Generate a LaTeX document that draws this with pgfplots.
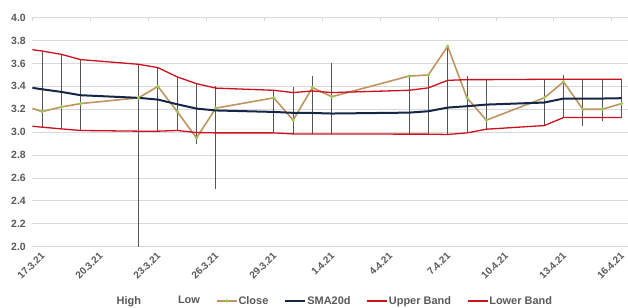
\documentclass[border=0pt]{standalone}
\usepackage{fontspec}
\setmainfont{Liberation Sans}
\usepackage{pgfplots}
\usepackage{pgfplotstable}
\pgfplotsset{compat=1.18}
\definecolor{closec}{RGB}{192,148,96}
\definecolor{smac}{RGB}{22,38,70}
\definecolor{bandc}{RGB}{204,16,30}
\definecolor{mkc}{RGB}{146,208,80}
\definecolor{hlc}{RGB}{85,85,85}
\definecolor{gridc}{RGB}{217,217,217}
\definecolor{txtc}{RGB}{89,89,89}

% x = day index from 17.3.21 (tick at day start), data plotted mid-day
\pgfplotstableread{
x     close  sma    upper  lower
-0.5  3.235  3.400  3.733  3.060
0.5   3.180  3.375  3.709  3.044
1.5   3.220  3.352  3.680  3.029
2.5   3.250  3.323  3.634  3.015
5.5   3.300  3.300  3.593  3.009
6.5   3.400  3.285  3.564  3.009
7.5   3.180  3.244  3.483  3.015
8.5   2.950  3.206  3.424  2.997
9.5   3.210  3.190  3.385  2.994
12.5  3.300  3.177  3.366  2.994
13.5  3.105  3.169  3.346  2.985
14.5  3.390  3.168  3.360  2.985
15.5  3.310  3.163  3.346  2.985
19.5  3.490  3.171  3.366  2.983
20.5  3.500  3.183  3.387  2.983
21.5  3.750  3.215  3.453  2.980
22.5  3.300  3.227  3.459  2.994
23.5  3.105  3.241  3.459  3.026
26.5  3.300  3.259  3.462  3.058
27.5  3.440  3.294  3.462  3.128
28.5  3.200  3.294  3.462  3.128
29.5  3.200  3.294  3.462  3.128
30.5  3.250  3.297  3.462  3.128
}\lines

\pgfplotstableread{
x     high   low
0.5   3.709  3.044
1.5   3.680  3.029
2.5   3.634  3.015
5.5   3.593  2.000
6.5   3.564  3.009
7.5   3.483  3.015
8.5   3.424  2.895
9.5   3.400  2.500
12.5  3.366  2.994
13.5  3.395  2.985
14.5  3.494  2.985
15.5  3.600  2.985
19.5  3.490  2.983
20.5  3.500  2.983
21.5  3.750  2.980
22.5  3.494  2.994
23.5  3.459  3.026
26.5  3.462  3.058
27.5  3.497  3.128
28.5  3.462  3.052
29.5  3.462  3.099
30.5  3.462  3.128
}\hilo

\begin{document}
\begin{tikzpicture}
\begin{axis}[
  at={(0,0)}, anchor=south west,
  scale only axis, width=596bp, height=229bp,
  xmin=0, xmax=30.85, ymin=2.0, ymax=4.0,
  ytick={2.0,2.2,...,4.01},
  xtick={0,3,...,30},
  xticklabels={17.3.21,20.3.21,23.3.21,26.3.21,29.3.21,1.4.21,4.4.21,7.4.21,10.4.21,13.4.21,16.4.21},
  ymajorgrids, grid style={draw=gridc, line width=0.9bp},
  axis line style={draw=none},
  xtick pos=upper, xticklabel pos=lower,
  ytick style={draw=none},
  xtick style={draw=gridc, line width=0.9bp},
  major tick length=3bp, tick align=inside,
  /pgf/number format/.cd, fixed, fixed zerofill, precision=1, assume math mode=true,
  /pgfplots/.cd,
  yticklabel style={font=\bfseries\fontsize{10.5}{12}\selectfont, text=txtc, xshift=-3bp},
  xticklabel style={font=\bfseries\fontsize{10}{12}\selectfont, text=txtc, xshift=8bp, yshift=-3bp, rotate=45, anchor=north east, inner sep=1bp},
  legend style={at={(0.490,-0.237)}, anchor=center, draw=none, fill=none,
    font=\bfseries\fontsize{11}{13}\selectfont, text=txtc,
    legend columns=-1,
    /tikz/every even column/.append style={column sep=15bp},
    nodes={inner sep=1bp}},
  legend image code/.code={\draw[#1,mark repeat=2,mark phase=2] plot coordinates {(0bp,0bp) (10bp,0bp) (20bp,0bp)};},
]
\addplot[draw=none, mark=none, forget plot,
  error bars/.cd, y dir=plus, y explicit, error mark=none,
  error bar style={draw=hlc, line width=0.9bp}]
  table[x=x, y=low, y error expr=\thisrow{high}-\thisrow{low}] {\hilo};
\addplot[draw=none, mark=none, legend image code/.code={\path (0bp,0bp) -- (20bp,0bp);}] table[x=x, y=high] {\hilo};
\addlegendentry{High}
\addplot[draw=none, mark=none, legend image code/.code={\path (0bp,0bp) -- (20bp,0bp);}] table[x=x, y=low] {\hilo};
\addlegendentry{Low}
\addplot[color=closec, line width=1.6bp, mark=*, mark size=0.7bp, mark options={draw=mkc, fill=mkc}] table[x=x, y=close] {\lines};
\addlegendentry{Close}
\addplot[color=smac, line width=2bp, mark=none] table[x=x, y=sma] {\lines};
\addlegendentry{SMA20d}
\addplot[color=bandc, line width=1.3bp, mark=none] table[x=x, y=upper] {\lines};
\addlegendentry{Upper Band}
\addplot[color=bandc, line width=1.3bp, mark=none] table[x=x, y=lower] {\lines};
\addlegendentry{Lower Band}
\end{axis}
\pgfresetboundingbox
\path[use as bounding box] (-32.3bp,-61.3bp) rectangle (595.7bp,246.7bp);
\end{tikzpicture}
\end{document}
